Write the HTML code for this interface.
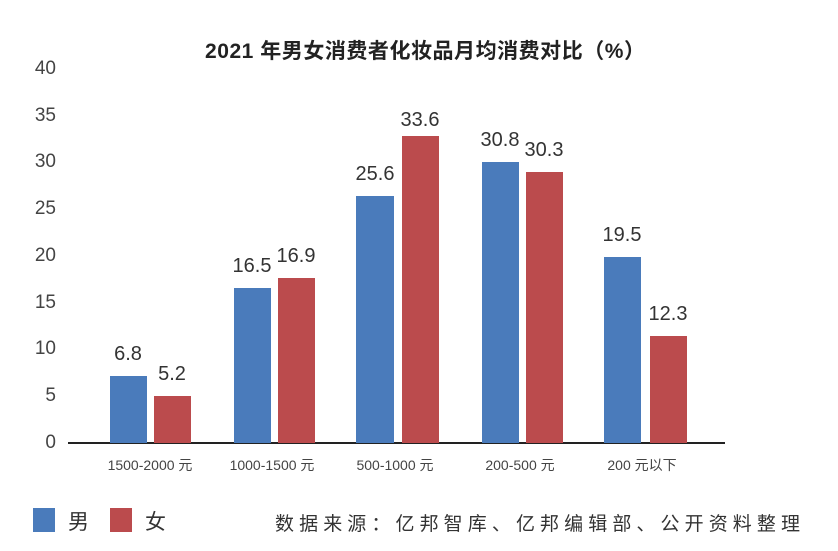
<!DOCTYPE html>
<html><head><meta charset="utf-8"><style>
body{margin:0;background:#fff;}
svg text{font-family:"Liberation Sans","Noto Sans CJK SC",sans-serif;}
</style></head><body>
<svg width="838" height="546" xmlns="http://www.w3.org/2000/svg">
<rect width="838" height="546" fill="#fff"/>
<text x="425" y="58" font-size="21" font-weight="bold" text-anchor="middle" fill="#222" textLength="440">2021 年男女消费者化妆品月均消费对比（%）</text>
<g font-size="19" fill="#444" text-anchor="end">
<text x="56" y="448">0</text><text x="56" y="401">5</text><text x="56" y="354">10</text><text x="56" y="308">15</text><text x="56" y="261">20</text><text x="56" y="214">25</text><text x="56" y="167">30</text><text x="56" y="121">35</text><text x="56" y="74">40</text>
</g>
<line x1="68" y1="443" x2="725" y2="443" stroke="#222" stroke-width="2"/>
<g fill="#4a7bbb">
<rect x="110" y="376" width="37" height="67"/><rect x="234" y="288" width="37" height="155"/><rect x="356" y="196" width="38" height="247"/><rect x="482" y="162" width="37" height="281"/><rect x="604" y="257" width="37" height="186"/>
</g>
<g fill="#bb4b4d">
<rect x="154" y="396" width="37" height="47"/><rect x="278" y="278" width="37" height="165"/><rect x="402" y="136" width="37" height="307"/><rect x="526" y="172" width="37" height="271"/><rect x="650" y="336" width="37" height="107"/>
</g>
<g font-size="20" fill="#333" text-anchor="middle">
<text x="128" y="360">6.8</text><text x="172" y="380">5.2</text>
<text x="252" y="272">16.5</text><text x="296" y="262">16.9</text>
<text x="375" y="180">25.6</text><text x="420" y="126">33.6</text>
<text x="500" y="146">30.8</text><text x="544" y="156">30.3</text>
<text x="622" y="241">19.5</text><text x="668" y="320">12.3</text>
</g>
<g font-size="14" fill="#444" text-anchor="middle">
<text x="150" y="470">1500-2000 元</text><text x="272" y="470">1000-1500 元</text><text x="395" y="470">500-1000 元</text><text x="520" y="470">200-500 元</text><text x="642" y="470">200 元以下</text>
</g>
<rect x="33" y="508" width="22" height="24" fill="#4a7bbb"/>
<rect x="110" y="508" width="22" height="24" fill="#bb4b4d"/>
<text x="68" y="529" font-size="21" fill="#333">男</text>
<text x="145" y="529" font-size="21" fill="#333">女</text>
<text x="275" y="530" font-size="19" fill="#333" font-family="'Noto Serif CJK SC',serif" textLength="525">数据来源：亿邦智库、亿邦编辑部、公开资料整理</text>
</svg>
</body></html>
